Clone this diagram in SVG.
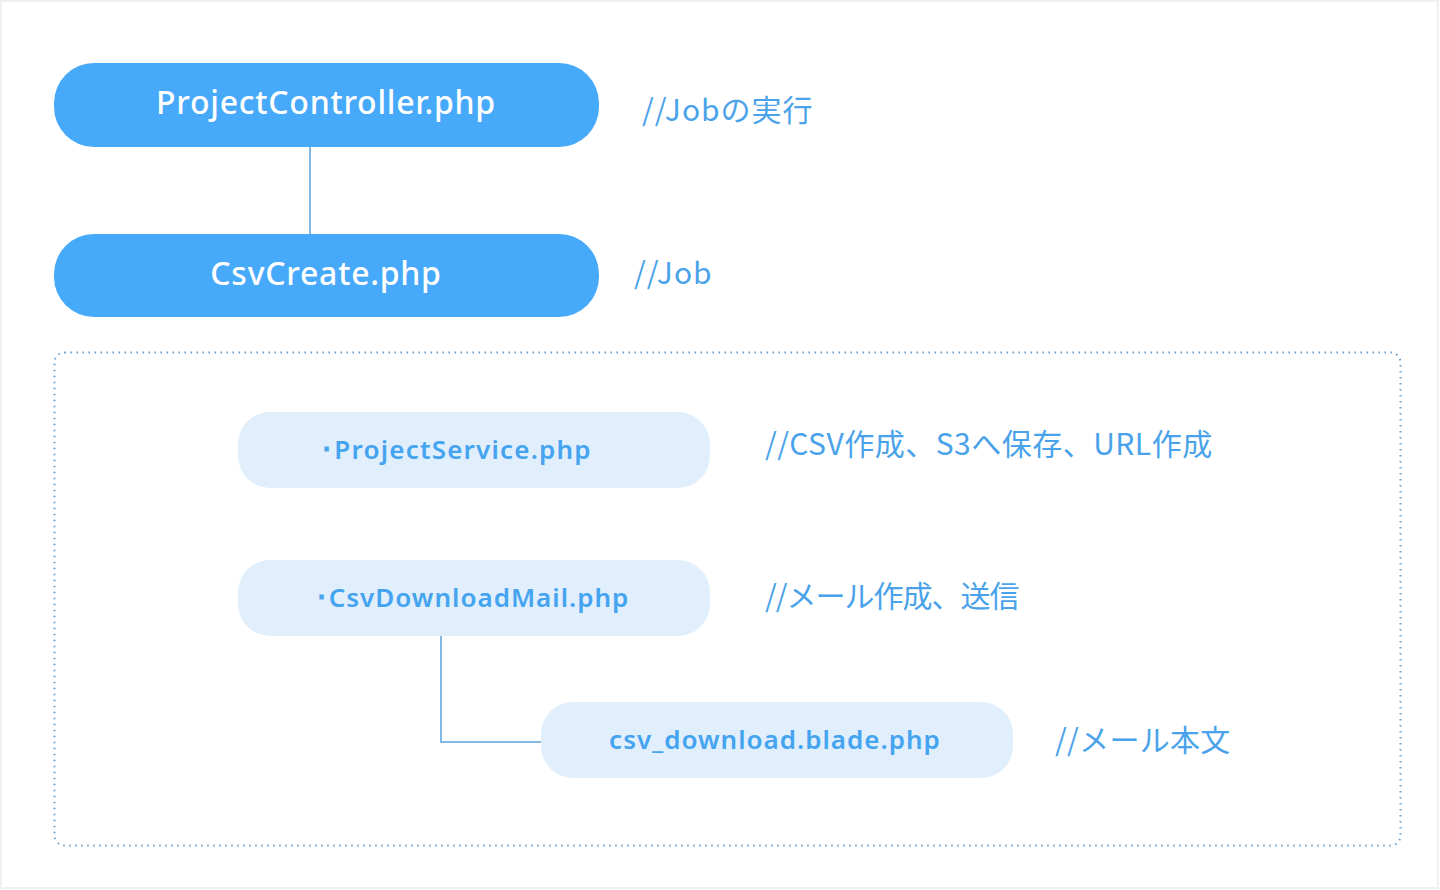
<svg xmlns="http://www.w3.org/2000/svg" width="1440" height="890" viewBox="0 0 1440 890">
<style>
.main{fill:#47a9f9}
.sub{fill:#e1effd}
.mt{font-family:"Noto Sans","Lato",sans-serif;font-weight:500;font-size:32px;letter-spacing:0.75px;fill:#ffffff;text-anchor:middle}
.st{font-family:"Noto Sans","Lato",sans-serif;font-weight:600;font-size:26px;letter-spacing:1px;fill:#45a4f0;text-anchor:middle}
.cm{font-family:"Noto Sans CJK JP",sans-serif;font-weight:400;font-size:30px;fill:#4aa3ea}
.conn{fill:none;stroke:#5aa3dc;stroke-width:1.5}
</style>
<rect x="0" y="0" width="1440" height="890" fill="#ffffff"/>
<rect x="1" y="1" width="1437" height="887" fill="none" stroke="#f0f0f0" stroke-width="2"/>
<g id="connectors">
<line class="conn" x1="310" y1="147" x2="310" y2="234"/>
<polyline class="conn" points="441,636 441,742 541,742"/>
</g>
<g id="group-box">
<rect x="54.5" y="352.5" width="1346" height="493" rx="10" fill="none" stroke="#6aa0d0" stroke-width="2" stroke-dasharray="1.5 4.5"/>
</g>
<g id="node-controller">
<rect class="main" x="54" y="63" width="545" height="84" rx="40"/>
<text class="mt" x="326" y="114">ProjectController.php</text>
</g>
<g id="node-csvcreate">
<rect class="main" x="54" y="234" width="545" height="83" rx="40"/>
<text class="mt" x="326" y="285">CsvCreate.php</text>
</g>
<g id="node-service">
<rect class="sub" x="238" y="412" width="472" height="76" rx="32"/>
<text class="st" x="456" y="459" style="letter-spacing:1.2px">･ProjectService.php</text>
</g>
<g id="node-mail">
<rect class="sub" x="238" y="560" width="472" height="76" rx="32"/>
<text class="st" x="472" y="607">･CsvDownloadMail.php</text>
</g>
<g id="node-blade">
<rect class="sub" x="541" y="702" width="472" height="76" rx="32"/>
<text class="st" x="775" y="749">csv_download.blade.php</text>
</g>
<g id="comments">
<text class="cm" x="642" y="121" style="letter-spacing:1px">//Jobの実行</text>
<text class="cm" x="634" y="284" style="letter-spacing:1px">//Job</text>
<text class="cm" x="765" y="455" style="letter-spacing:0.5px">//CSV作成、S3へ保存、URL作成</text>
<text class="cm" x="765" y="607" style="letter-spacing:-1px">//メール作成、送信</text>
<text class="cm" x="1055" y="751" style="letter-spacing:0.3px">//メール本文</text>
</g>
</svg>
